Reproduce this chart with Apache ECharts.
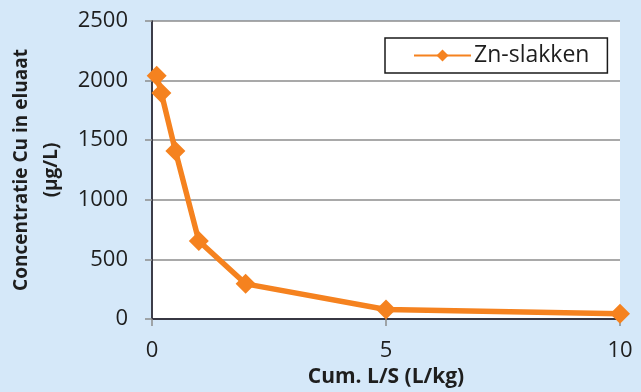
<!DOCTYPE html>
<html>
<head>
<meta charset="utf-8">
<script src="https://cdn.jsdelivr.net/npm/echarts@6/dist/echarts.min.js"></script>
<style>
  html, body { margin: 0; padding: 0; background: #d5e8f9; }
  #chart { width: 641px; height: 392px; }
</style>
</head>
<body>
<div id="chart"></div>
<script>
// Cumulative liquid/solid ratio (L/kg) and Cu concentration in the eluate (µg/L)
const seriesName = 'Zn-slakken';
const lsRatio = [0.1, 0.2, 0.5, 1, 2, 5, 10];
const cuConcentration = [2040, 1895, 1410, 655, 295, 80, 45];
const yTicks = [0, 500, 1000, 1500, 2000, 2500];
const xTicks = [0, 5, 10];

const FONT = 'Open Sans';
const TEXT = '#1e1e1e';
const ORANGE = '#f5821f';

const chart = echarts.init(document.getElementById('chart'), null, { renderer: 'canvas' });

chart.setOption({
  backgroundColor: '#d5e8f9',
  animation: false,
  textStyle: { fontFamily: FONT },
  grid: {
    left: 152, right: 21, top: 21, bottom: 73,
    containLabel: false, outerBoundsMode: 'none',
    show: true, backgroundColor: '#ffffff', borderWidth: 0
  },
  legend: {
    left: 385, top: 38,
    padding: [6, 18, 6, 28],
    backgroundColor: '#ffffff',
    borderColor: '#1a1a1a', borderWidth: 1.5, borderRadius: 0,
    itemWidth: 57, itemHeight: 15, itemGap: 0,
    textStyle: { fontFamily: FONT, fontSize: 23, color: TEXT, padding: [0, 0, 0, -2] },
    data: [seriesName]
  },
  xAxis: [{
    type: 'value', min: xTicks[0], max: xTicks[xTicks.length - 1], interval: 5,
    name: 'Cum. L/S (L/kg)', nameLocation: 'middle', nameGap: 47,
    nameTextStyle: { fontFamily: FONT, fontSize: 21, fontWeight: 'bold', color: TEXT },
    axisLine: { show: true, onZero: false, lineStyle: { color: '#8c8c8c', width: 1.5 } },
    axisTick: { show: true, length: 7, lineStyle: { color: '#8c8c8c', width: 1.5 } },
    axisLabel: { fontFamily: FONT, fontSize: 22, color: TEXT, margin: 21,
                 formatter: v => xTicks.includes(v) ? String(v) : '' },
    splitLine: { show: false }
  }, {
    type: 'value', position: 'top', min: 0, max: 10,
    axisLine: { show: true, lineStyle: { color: '#1a1a2a', width: 1.5 } },
    axisTick: { show: false }, axisLabel: { show: false }, splitLine: { show: false }
  }],
  yAxis: [{
    type: 'value', min: yTicks[0], max: yTicks[yTicks.length - 1], interval: 500,
    name: 'Concentratie Cu in eluaat\n(µg/L)', nameLocation: 'middle', nameRotate: 90, nameGap: 83,
    nameTextStyle: { fontFamily: FONT, fontSize: 19, fontWeight: 'bold', color: TEXT, lineHeight: 30, align: 'center' },
    axisLine: { show: true, lineStyle: { color: '#8c8c8c', width: 1.5 } },
    axisTick: { show: true, length: 7, lineStyle: { color: '#8c8c8c', width: 1.5 } },
    axisLabel: { fontFamily: FONT, fontSize: 22, color: TEXT, margin: 24,
                 formatter: v => yTicks.includes(v) ? String(v) : '' },
    splitLine: { show: true, lineStyle: { color: '#8c8c8c', width: 1.5 } }
  }, {
    type: 'value', position: 'right', min: 0, max: 2500,
    axisLine: { show: true, lineStyle: { color: '#1a1a2a', width: 1.5 } },
    axisTick: { show: false }, axisLabel: { show: false }, splitLine: { show: false }
  }],
  series: [{
    name: seriesName,
    type: 'line',
    data: lsRatio.map((x, i) => [x, cuConcentration[i]]),
    symbol: 'diamond', symbolSize: 20,
    lineStyle: { color: ORANGE, width: 5.5 },
    itemStyle: { color: ORANGE },
    z: 5
  }]
});
</script>
</body>
</html>
